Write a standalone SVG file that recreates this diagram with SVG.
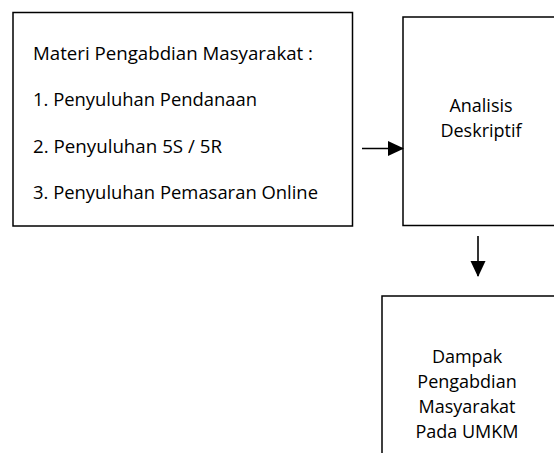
<svg xmlns="http://www.w3.org/2000/svg" width="554" height="453" viewBox="0 0 554 453">
<style>
.box{fill:#fff;stroke:#000;stroke-width:1.5}
.t{font-family:"Open Sans","Noto Sans","Liberation Sans",sans-serif;font-size:17.5px;fill:#000}
.c{text-anchor:middle;font-size:18px}
.ln{stroke:#000;stroke-width:1.6;fill:none}
</style>
<defs>
<marker id="ah" markerUnits="userSpaceOnUse" markerWidth="16" markerHeight="16" refX="15" refY="8" orient="auto">
<path d="M0,0.5 L16,8 L0,15.5 Z" fill="#000"/>
</marker>
</defs>
<rect width="554" height="453" fill="#fff"/>
<g id="materi">
<rect class="box" x="13" y="12.5" width="339.5" height="213.5"/>
<text class="t" x="33" y="60" textLength="280" lengthAdjust="spacingAndGlyphs">Materi Pengabdian Masyarakat :</text>
<text class="t" x="33" y="106" textLength="224" lengthAdjust="spacingAndGlyphs">1. Penyuluhan Pendanaan</text>
<text class="t" x="33" y="152.5" textLength="189" lengthAdjust="spacingAndGlyphs">2. Penyuluhan 5S / 5R</text>
<text class="t" x="33" y="199" textLength="285" lengthAdjust="spacingAndGlyphs">3. Penyuluhan Pemasaran Online</text>
</g>
<g id="analisis">
<rect class="box" x="403" y="17" width="170" height="208.5"/>
<text class="t c" x="481" y="112">Analisis</text>
<text class="t c" x="481" y="137">Deskriptif</text>
</g>
<g id="dampak">
<rect class="box" x="382" y="296" width="190" height="170"/>
<text class="t c" x="467" y="363">Dampak</text>
<text class="t c" x="467" y="388">Pengabdian</text>
<text class="t c" x="467" y="413">Masyarakat</text>
<text class="t c" x="467" y="437.5">Pada UMKM</text>
</g>
<g id="connectors">
<line class="ln" x1="362" y1="148.5" x2="403" y2="148.5" marker-end="url(#ah)"/>
<line class="ln" x1="478" y1="236" x2="478" y2="276" marker-end="url(#ah)"/>
</g>
</svg>
